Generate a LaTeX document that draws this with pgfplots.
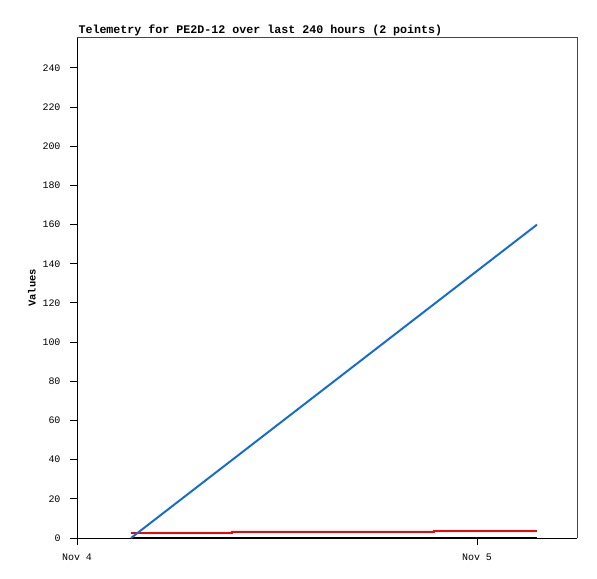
\documentclass[border=0pt]{standalone}
\usepackage{pgfplots}
\pgfplotsset{compat=1.18}
\usepackage{fontspec}
\setmainfont{Liberation Sans}
\setmonofont{Liberation Mono}
\definecolor{lineblue}{RGB}{20,110,210}
\definecolor{framegray}{RGB}{70,70,70}
\begin{document}
\begin{tikzpicture}[x=1bp,y=1bp]
\path[use as bounding box] (-77bp,-41bp) rectangle (520bp,538bp);
\begin{axis}[
  at={(0,0)}, anchor=south west,
  scale only axis, width=500bp, height=500bp,
  xmin=0, xmax=30, ymin=0, ymax=255.3,
  axis x line*=bottom, axis y line*=left,
  axis line style={black, line width=1pt},
  xtick={0,24}, xticklabels={Nov 4,Nov 5},
  ytick={0,20,...,240},
  tick align=outside, major tick length=7bp,
  tick style={black, line width=1pt},
  ticklabel style={font=\ttfamily\fontsize{10}{11}\selectfont},
  /pgf/number format/assume math mode=true,
  xticklabel style={yshift=-5bp},
  yticklabel style={xshift=-6bp},
  title={\textbf{Telemetry for PE2D-12 over last 240 hours (2 points)}},
  title style={font=\ttfamily\fontsize{11.7}{13}\selectfont, at={(axis description cs:0,1)}, anchor=south west, yshift=-7bp, xshift=-2bp},
  clip=false,
]
\draw[framegray, line width=1pt] (axis cs:0,255.3) -- (axis cs:30,255.3) -- (axis cs:30,0);
\addplot[black, line width=2pt, mark=none] coordinates {(3.24,0) (27.6,0)};
\addplot[red, line width=2pt, mark=none, const plot] coordinates {(3.24,2.8) (9.3,3.3) (21.4,3.8) (27.6,3.8)};
\addplot[lineblue, line width=2pt, mark=none] coordinates {(3.24,0) (27.6,160)};
\node[rotate=90, font=\ttfamily\bfseries\fontsize{10.5}{12}\selectfont] at ([xshift=-45bp]rel axis cs:0,0.5) {Values};
\end{axis}
\end{tikzpicture}
\end{document}
